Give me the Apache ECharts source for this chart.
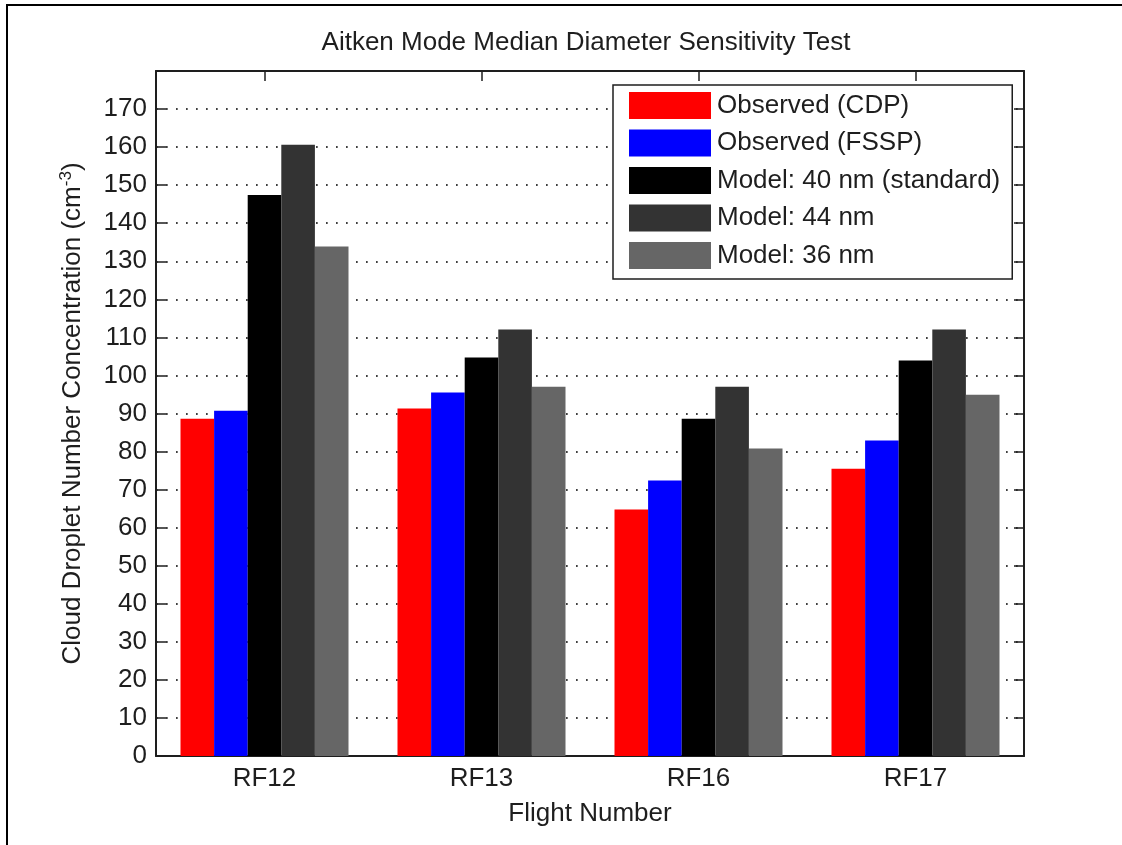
<!DOCTYPE html>
<html>
<head>
<meta charset="utf-8">
<script src="https://cdn.jsdelivr.net/npm/echarts@6/dist/echarts.min.js"></script>
<style>
  html, body { margin: 0; padding: 0; background: #fff; }
  #chart { width: 1122px; height: 845px; }
</style>
</head>
<body>
<div id="chart"></div>
<script>
// Flights and droplet concentrations (cm^-3)
const flights = ['RF12', 'RF13', 'RF16', 'RF17'];
const observedCDP = [88.6, 91.3, 64.8, 75.5];
const observedFSSP = [90.7, 95.5, 72.4, 82.9];
const model40 = [147.4, 104.7, 88.6, 103.9];
const model44 = [160.6, 112.1, 97.0, 112.1];
const model36 = [133.9, 97.0, 80.8, 94.9];

const seriesNames = ['Observed (CDP)', 'Observed (FSSP)', 'Model: 40 nm (standard)', 'Model: 44 nm', 'Model: 36 nm'];
const seriesColors = ['#ff0000', '#0000ff', '#000000', '#333333', '#666666'];
const seriesValues = [observedCDP, observedFSSP, model40, model44, model36];

const FONT = 'Liberation Sans, Arial, Helvetica, sans-serif';
const INK = '#1e1e1e';
const FS = 26;

const chart = echarts.init(document.getElementById('chart'), null, { renderer: 'canvas' });

const tickStyle = { show: true, inside: true, length: 10, lineStyle: { color: INK, width: 1.5 } };
const lineStyle = { show: true, onZero: false, lineStyle: { color: INK, width: 2 } };

chart.setOption({
  backgroundColor: '#fff',
  animation: false,
  textStyle: { fontFamily: FONT },
  title: {
    text: 'Aitken Mode Median Diameter Sensitivity Test',
    left: 586,
    top: 30,
    textAlign: 'center',
    padding: 0,
    textStyle: { fontFamily: FONT, fontSize: FS, fontWeight: 'normal', color: INK }
  },
  legend: {
    orient: 'vertical',
    left: 613,
    top: 85,
    padding: [7, 12, 10, 16],
    itemGap: 10.5,
    itemWidth: 82,
    itemHeight: 27,
    icon: 'rect',
    borderColor: INK,
    borderWidth: 1.5,
    backgroundColor: '#fff',
    textStyle: { fontFamily: FONT, fontSize: FS, color: INK, padding: [0, 0, 0, 1] },
    data: seriesNames
  },
  grid: { left: 156, right: 98, top: 71, bottom: 89, containLabel: false },
  xAxis: [
    {
      type: 'category',
      data: flights,
      position: 'bottom',
      axisLine: lineStyle,
      axisTick: Object.assign({ alignWithLabel: true }, tickStyle),
      axisLabel: { fontFamily: FONT, fontSize: FS, color: INK, margin: 10 },
      name: 'Flight Number',
      nameLocation: 'middle',
      nameGap: 45,
      nameTextStyle: { fontFamily: FONT, fontSize: FS, color: INK }
    },
    {
      type: 'category',
      data: flights,
      position: 'top',
      axisLine: lineStyle,
      axisTick: Object.assign({ alignWithLabel: true }, tickStyle),
      axisLabel: { show: false }
    }
  ],
  yAxis: [
    {
      type: 'value',
      min: 0,
      max: 180,
      interval: 10,
      position: 'left',
      axisLine: lineStyle,
      axisTick: tickStyle,
      axisLabel: {
        fontFamily: FONT, fontSize: FS, color: INK, margin: 9,
        formatter: v => (v >= 180 ? '' : String(v))
      },
      splitLine: { show: true, lineStyle: { color: '#000', width: 1.7, type: [1.7, 8.3] } },
      name: '{t|Cloud Droplet Number Concentration (cm}{s|-3}{t|)}',
      nameLocation: 'middle',
      nameRotate: 90,
      nameGap: 68,
      nameTextStyle: {
        rich: {
          t: { fontFamily: FONT, fontSize: FS, color: INK, lineHeight: 30 },
          s: { fontFamily: FONT, fontSize: 17, color: INK, lineHeight: 30, verticalAlign: 'top', padding: [0, 0, 12, 0] }
        }
      }
    },
    {
      type: 'value',
      min: 0,
      max: 180,
      interval: 10,
      position: 'right',
      axisLine: lineStyle,
      axisTick: tickStyle,
      axisLabel: { show: false },
      splitLine: { show: false }
    }
  ],
  series: seriesNames.map((name, i) => ({
    name: name,
    type: 'bar',
    data: seriesValues[i],
    barWidth: 33.6,
    barGap: '0%',
    itemStyle: { color: seriesColors[i] }
  })),
  graphic: [
    { type: 'line', shape: { x1: 6, y1: 5, x2: 1122, y2: 5 }, style: { stroke: '#000', lineWidth: 2 }, silent: true },
    { type: 'line', shape: { x1: 7, y1: 4, x2: 7, y2: 845 }, style: { stroke: '#000', lineWidth: 2 }, silent: true }
  ]
});
</script>
</body>
</html>
